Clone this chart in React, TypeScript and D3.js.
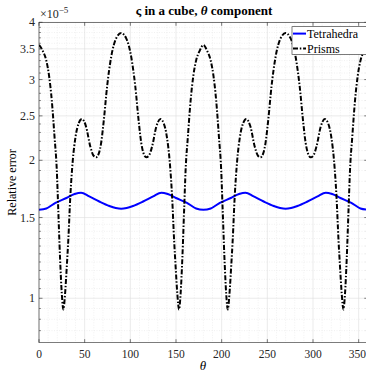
import React from 'react';
import * as d3 from 'd3';

// values in units of 1e-5
const thetaTetra = [0, 8, 18, 30, 39, 46, 55, 66, 77, 84, 90, 96, 103, 114, 125, 134, 141, 150, 162, 172, 180,
  188, 198, 210, 219, 226, 235, 246, 257, 264, 270, 276, 283, 294, 305, 314, 321, 330, 342, 352, 360];
const tetrahedra = [1.560, 1.570, 1.615, 1.655, 1.688, 1.700, 1.668, 1.626, 1.590, 1.574, 1.568, 1.574, 1.590, 1.626, 1.668, 1.700, 1.688, 1.655, 1.615, 1.570, 1.560,
  1.570, 1.615, 1.655, 1.688, 1.700, 1.668, 1.626, 1.590, 1.574, 1.568, 1.574, 1.590, 1.626, 1.668, 1.700, 1.688, 1.655, 1.615, 1.570, 1.560];

const thetaPrisms = [0, 4, 8, 11, 14, 17, 19.5, 21, 23, 25, 26.7, 28.5, 30.5, 32, 34.3, 37, 40, 43.5, 47, 51.5, 56, 59.5, 62.5, 65.5, 68, 71, 74.5, 79, 84.5, 90,
  95.5, 101, 105.5, 109, 112, 114.5, 117.5, 120.5, 124, 128.5, 133, 136.5, 140, 143, 145.7, 148, 149.5, 151.5, 153.3, 155, 157, 159, 160.5, 163, 166, 169, 172, 176, 180,
  184, 188, 191, 194, 197, 199.5, 201, 203, 205, 206.7, 208.5, 210.5, 212, 214.3, 217, 220, 223.5, 227, 231.5, 236, 239.5, 242.5, 245.5, 248, 251, 254.5, 259, 264.5, 270,
  275.5, 281, 285.5, 289, 292, 294.5, 297.5, 300.5, 304, 308.5, 313, 316.5, 320, 323, 325.7, 328, 329.5, 331.5, 333.3, 335, 337, 339, 340.5, 343, 346, 349, 352, 356, 360];
const prisms = [3.57, 3.47, 3.30, 3.06, 2.70, 2.25, 1.90, 1.58, 1.23, 1.02, 0.945, 1.02, 1.18, 1.33, 1.67, 2.0, 2.25, 2.41, 2.46, 2.37, 2.15, 2.05, 2.03, 2.07, 2.18, 2.45, 2.89, 3.36, 3.69, 3.79,
  3.69, 3.36, 2.89, 2.45, 2.18, 2.07, 2.03, 2.05, 2.15, 2.37, 2.46, 2.41, 2.25, 2.0, 1.67, 1.33, 1.18, 1.02, 0.945, 1.02, 1.23, 1.58, 1.90, 2.25, 2.70, 3.06, 3.30, 3.47, 3.57,
  3.47, 3.30, 3.06, 2.70, 2.25, 1.90, 1.58, 1.23, 1.02, 0.945, 1.02, 1.18, 1.33, 1.67, 2.0, 2.25, 2.41, 2.46, 2.37, 2.15, 2.05, 2.03, 2.07, 2.18, 2.45, 2.89, 3.36, 3.69, 3.79,
  3.69, 3.36, 2.89, 2.45, 2.18, 2.07, 2.03, 2.05, 2.15, 2.37, 2.46, 2.41, 2.25, 2.0, 1.67, 1.33, 1.18, 1.02, 0.945, 1.02, 1.23, 1.58, 1.90, 2.25, 2.70, 3.06, 3.30, 3.47, 3.57];

const xTicks = [0, 50, 100, 150, 200, 250, 300, 350];
const xMinor = [10, 20, 30, 40, 60, 70, 80, 90, 110, 120, 130, 140, 160, 170, 180, 190, 210, 220, 230, 240, 260, 270, 280, 290, 310, 320, 330, 340];
const yTicks = [1, 1.5, 2, 2.5, 3, 3.5, 4];
const yMinor = [0.85, 0.9, 0.95, 1.05, 1.1, 1.15, 1.2, 1.25, 1.3, 1.35, 1.4, 1.45, 1.6, 1.7, 1.8, 1.9, 2.1, 2.2, 2.3, 2.4, 2.6, 2.7, 2.8, 2.9, 3.1, 3.2, 3.3, 3.4, 3.6, 3.7, 3.8, 3.9];

const W = 366, H = 373;
const L = 39, R = 367.8, T = 22.3, B = 342.7;
const axisColor = '#262626';
const font = '"Liberation Serif", "DejaVu Serif", serif';
const dash = '5,1.8,1.5,1.8';

export default function App() {
  const x = d3.scaleLinear().domain([0, 360]).range([L, R]);
  const y = d3.scaleLog().domain([0.8, 4]).range([B, T]);

  const tetraLine = d3.line<number>()
    .x((_, i) => x(thetaTetra[i]))
    .y(d => y(d))
    .curve(d3.curveMonotoneX);
  const prismLine = d3.line<number>()
    .x((_, i) => x(thetaPrisms[i]))
    .y(d => y(d))
    .curve(d3.curveMonotoneX);

  return (
    <svg width={W} height={H} viewBox={`0 0 ${W} ${H}`}
      style={{ position: 'absolute', left: 0, top: 0, display: 'block', background: '#fff' }}>
      <defs>
        <clipPath id="plot"><rect x={L} y={T} width={R - L} height={B - T} /></clipPath>
      </defs>
      <rect x={L} y={T} width={R - L} height={B - T} fill="#fff" />

      {/* minor grid */}
      {xMinor.map(v => (
        <line key={'xm' + v} x1={x(v)} x2={x(v)} y1={T} y2={B} stroke="#e2e2e2" strokeWidth={0.5} strokeDasharray="1,1.5" />
      ))}
      {yMinor.map(v => (
        <line key={'ym' + v} x1={L} x2={R} y1={y(v)} y2={y(v)} stroke="#e2e2e2" strokeWidth={0.5} strokeDasharray="1,1.5" />
      ))}
      {/* major grid */}
      {xTicks.map(v => (
        <line key={'xg' + v} x1={x(v)} x2={x(v)} y1={T} y2={B} stroke="#dedede" strokeWidth={0.6} />
      ))}
      {yTicks.map(v => (
        <line key={'yg' + v} x1={L} x2={R} y1={y(v)} y2={y(v)} stroke="#dedede" strokeWidth={0.6} />
      ))}

      <g clipPath="url(#plot)">
        <path d={tetraLine(tetrahedra) || ''} fill="none" stroke="#0000ff" strokeWidth={2} />
        <path d={prismLine(prisms) || ''} fill="none" stroke="#000" strokeWidth={2} strokeDasharray={dash} />
      </g>

      {/* axes box */}
      <rect x={L} y={T} width={R - L} height={B - T} fill="none" stroke={axisColor} strokeWidth={0.6} />
      {xTicks.map(v => (
        <g key={'xt' + v}>
          <line x1={x(v)} x2={x(v)} y1={B} y2={B - 3.5} stroke={axisColor} strokeWidth={0.6} />
          <line x1={x(v)} x2={x(v)} y1={T} y2={T + 3.5} stroke={axisColor} strokeWidth={0.6} />
          <text x={Math.min(x(v), 357.3)} y={358} textAnchor="middle" fontFamily={font} fontSize={11.5} fill={axisColor}>{v}</text>
        </g>
      ))}
      {yTicks.map(v => (
        <g key={'yt' + v}>
          <line x1={L} x2={L + 3.5} y1={y(v)} y2={y(v)} stroke={axisColor} strokeWidth={0.6} />
          <line x1={R} x2={R - 3.5} y1={y(v)} y2={y(v)} stroke={axisColor} strokeWidth={0.6} />
          <text x={35} y={y(v) + 4} textAnchor="end" fontFamily={font} fontSize={12} fill={axisColor}>{v}</text>
        </g>
      ))}
      {yMinor.map(v => (
        <g key={'ymt' + v}>
          <line x1={L} x2={L + 2} y1={y(v)} y2={y(v)} stroke={axisColor} strokeWidth={0.5} />
          <line x1={R} x2={R - 2} y1={y(v)} y2={y(v)} stroke={axisColor} strokeWidth={0.5} />
        </g>
      ))}

      {/* exponent */}
      <text x={40} y={18} fontFamily={font} fontSize={12} fill={axisColor}>
        ×10<tspan dy={-5.5} fontSize={9}>−5</tspan>
      </text>

      {/* title */}
      <text x={204} y={15} textAnchor="middle" fontFamily={font} fontSize={13} fontWeight="bold" fill="#000">
        ς in a cube, <tspan fontStyle="italic">θ</tspan> component
      </text>

      {/* axis labels */}
      <text transform={`translate(16,${(T + B) / 2}) rotate(-90)`} textAnchor="middle" fontFamily={font} fontSize={12} fill="#000">
        Relative error
      </text>
      <text x={203} y={370} textAnchor="middle" fontFamily={font} fontSize={13} fontStyle="italic" fill="#000">θ</text>

      {/* legend */}
      <rect x={292} y={26.7} width={80} height={27.6} fill="#fff" stroke={axisColor} strokeWidth={0.6} />
      <line x1={293} x2={306} y1={33.6} y2={33.6} stroke="#0000ff" strokeWidth={2} />
      <text x={307} y={38} fontFamily={font} fontSize={12} fill="#000">Tetrahedra</text>
      <line x1={293} x2={306} y1={48.4} y2={48.4} stroke="#000" strokeWidth={2} strokeDasharray={dash} />
      <text x={307} y={52.5} fontFamily={font} fontSize={12} fill="#000">Prisms</text>
    </svg>
  );
}
